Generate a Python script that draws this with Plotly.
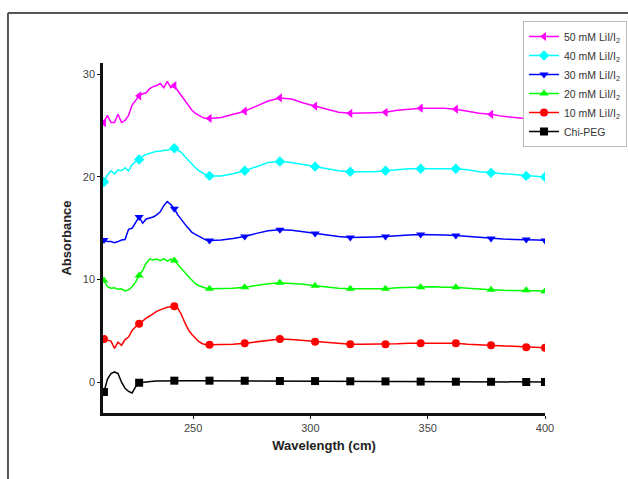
import plotly.graph_objects as go

# Wavelength grid (nm-ish, labelled "cm" in the original)
wavelength = [212, 213.5, 215, 216.5, 218, 219.5, 221, 222.5, 224, 225.5, 227, 228.5, 230, 231.5,
              233, 234.5, 236, 237.5, 239, 240.5, 242, 243.5, 245, 246.5, 248, 249.5, 251, 252.5,
              254, 255.5, 257,
              262, 267, 272, 277, 282, 287, 292, 297, 302, 307, 312, 317, 322, 327, 332, 337, 342,
              347, 352, 357, 362, 367, 372, 377, 382, 387, 392, 397, 400]

marker_wavelengths = [212, 227, 242, 257, 272, 287, 302, 317, 332, 347, 362, 377, 392, 400]

chi_peg = [-0.95, 0.3, 0.85, 1.0, 0.85, 0.0, -0.6, -0.9, -1.05, -0.45, -0.05, 0.0, 0.05, 0.08,
           0.1, 0.12, 0.13, 0.14, 0.15, 0.15, 0.15, 0.15, 0.15, 0.15, 0.15, 0.15, 0.15, 0.15,
           0.15, 0.15, 0.15,
           0.15, 0.14, 0.14, 0.13, 0.13, 0.12, 0.12, 0.11, 0.11, 0.1, 0.1, 0.09, 0.09, 0.08, 0.08,
           0.07, 0.07, 0.06, 0.06, 0.06, 0.05, 0.05, 0.04, 0.04, 0.03, 0.03, 0.02, 0.02, 0.02]

lii_10 = [4.2, 4.1, 4.0, 3.3, 3.9, 3.6, 4.15, 4.4, 5.05, 5.4, 5.7, 5.95, 6.25, 6.45,
          6.7, 6.9, 7.05, 7.2, 7.3, 7.35, 7.4, 7.2, 6.6, 5.8, 5.1, 4.65, 4.25, 3.95,
          3.75, 3.65, 3.65,
          3.65, 3.7, 3.8, 3.95, 4.1, 4.2, 4.15, 4.05, 3.95, 3.85, 3.75, 3.7, 3.7, 3.7, 3.7,
          3.75, 3.8, 3.8, 3.85, 3.8, 3.8, 3.7, 3.65, 3.6, 3.5, 3.45, 3.4, 3.4, 3.35]

lii_20 = [9.9, 9.3, 9.15, 9.2, 9.05, 9.1, 8.9, 9.0, 9.3, 9.75, 10.4, 10.9, 11.6, 12.0,
          11.9, 12.0, 11.85, 12.05, 11.8, 12.0, 11.85, 11.5, 11.1, 10.7, 10.3, 9.9, 9.6, 9.4,
          9.25, 9.15, 9.1,
          9.1, 9.15, 9.25, 9.45, 9.6, 9.7, 9.65, 9.55, 9.4, 9.25, 9.15, 9.1, 9.1, 9.1, 9.1,
          9.2, 9.25, 9.25, 9.3, 9.25, 9.25, 9.15, 9.05, 9.0, 8.95, 8.95, 8.95, 8.9, 8.85]

lii_30 = [13.85, 13.7, 13.7, 13.6, 13.7, 13.85, 13.9, 14.9, 15.0, 15.6, 16.1, 15.5, 15.9, 16.0,
          16.1, 16.3, 16.6, 17.2, 17.6, 17.3, 16.9, 16.3, 15.8, 15.4, 15.0, 14.6, 14.4, 14.2,
          14.0, 13.85, 13.8,
          13.85, 14.0, 14.2, 14.5, 14.75, 14.85, 14.8, 14.65, 14.5, 14.3, 14.2, 14.1, 14.1, 14.15,
          14.2, 14.3, 14.35, 14.4, 14.4, 14.35, 14.3, 14.2, 14.1, 14.0, 13.95, 13.9, 13.9, 13.85,
          13.8]

lii_40 = [19.5, 20.2, 20.6, 20.3, 20.7, 20.6, 20.9, 20.6, 21.2, 21.5, 21.7, 22.0, 22.2, 22.3,
          22.4, 22.5, 22.5, 22.6, 22.6, 22.7, 22.8, 22.6, 22.4, 22.0, 21.6, 21.2, 20.9, 20.6,
          20.4, 20.2, 20.1,
          20.1, 20.3, 20.6, 21.0, 21.4, 21.5, 21.4, 21.2, 21.0, 20.8, 20.6, 20.5, 20.5, 20.5,
          20.6, 20.7, 20.8, 20.8, 20.8, 20.8, 20.8, 20.7, 20.5, 20.4, 20.3, 20.2, 20.1, 20.05,
          20.0]

lii_50 = [25.3, 26.0, 25.3, 25.3, 26.1, 25.3, 25.5, 26.0, 27.0, 27.5, 27.9, 28.1, 28.2, 28.6,
          28.8, 28.9, 29.1, 28.7, 29.3, 28.7, 28.9, 28.4, 27.9, 27.4, 26.9, 26.5, 26.2, 26.0,
          25.8, 25.7, 25.7,
          25.8, 26.1, 26.4, 26.9, 27.4, 27.7, 27.6, 27.2, 26.9, 26.6, 26.3, 26.2, 26.2, 26.25,
          26.3, 26.5, 26.6, 26.7, 26.7, 26.7, 26.6, 26.4, 26.2, 26.1, 25.9, 25.8, 25.7, 25.6,
          25.5]

series_names = ["Chi-PEG", "10 mM LiI/I<sub>2</sub>", "20 mM LiI/I<sub>2</sub>",
                "30 mM LiI/I<sub>2</sub>", "40 mM LiI/I<sub>2</sub>", "50 mM LiI/I<sub>2</sub>"]
series_values = [chi_peg, lii_10, lii_20, lii_30, lii_40, lii_50]
series_colors = ["#000000", "#FF0000", "#00FF00", "#0000FF", "#00FFFF", "#FF00FF"]
series_symbols = ["square", "circle", "triangle-up", "triangle-down", "diamond", "triangle-left"]

fig = go.Figure()
mk_idx = [wavelength.index(w) for w in marker_wavelengths]
for name, vals, col, sym in zip(series_names, series_values, series_colors, series_symbols):
    fig.add_trace(go.Scatter(x=wavelength, y=vals, mode="lines", line=dict(color=col, width=1.5),
                             legendgroup=name, showlegend=False, hoverinfo="skip"))
    fig.add_trace(go.Scatter(x=[wavelength[i] for i in mk_idx], y=[vals[i] for i in mk_idx],
                             mode="markers", marker=dict(color=col, symbol=sym, size=8),
                             legendgroup=name, showlegend=False))
    fig.add_trace(go.Scatter(x=[None], y=[None], mode="lines+markers", name=name,
                             line=dict(color=col, width=1.5),
                             marker=dict(color=col, symbol=sym, size=8), legendgroup=name))

# outer frame (left and top edges)
frame = dict(color="#555555", width=2)
fig.add_shape(type="line", xref="paper", yref="paper", x0=-0.2150, x1=-0.2150, y0=1.1429, y1=-0.3,
              line=frame)
fig.add_shape(type="line", xref="paper", yref="paper", x0=-0.2150, x1=1.3, y0=1.1429, y1=1.1429,
              line=frame)

fig.update_layout(
    width=628, height=479,
    margin=dict(l=103, r=83, t=63, b=66, autoexpand=False),
    paper_bgcolor="white", plot_bgcolor="white",
    font=dict(family="Liberation Sans, Arial, sans-serif", color="#444444", size=11),
    showlegend=True,
    legend=dict(x=(523 - 103) / 442, y=(413 - 21) / 350,
                xanchor="left", yanchor="top",
                bordercolor="#bbbbbb", borderwidth=1, bgcolor="white",
                traceorder="reversed", tracegroupgap=0,
                font=dict(size=10.5, color="#333333"), itemwidth=30),
    xaxis=dict(range=[211.6, 400], tickvals=[250, 300, 350, 400], showgrid=False, zeroline=False,
               showline=True, linecolor="#111111", linewidth=2.5, ticks="outside", ticklen=3,
               tickcolor="#111111",
               title=dict(text="<b>Wavelength (cm)</b>", font=dict(size=13, color="#222222"),
                          standoff=8)),
    yaxis=dict(range=[-3.0, 31.1], tickvals=[0, 10, 20, 30], showgrid=False, zeroline=False,
               showline=True, linecolor="#111111", linewidth=2.5, ticks="outside", ticklen=3,
               tickcolor="#111111",
               title=dict(text="<b>Absorbance</b>", font=dict(size=13, color="#222222"),
                          standoff=9)),
)

fig.write_html("out.html")
